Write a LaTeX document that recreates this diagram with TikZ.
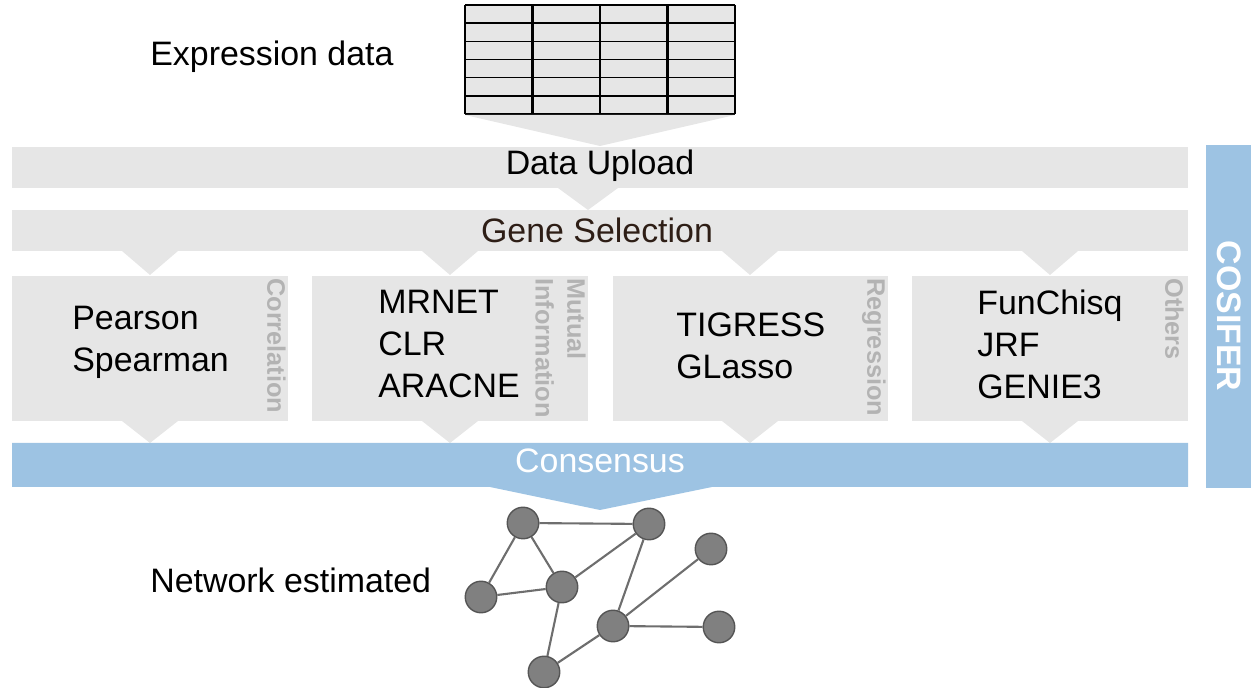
\documentclass[tikz,border=0pt]{standalone}
\usepackage{fontspec}
\setmainfont{Liberation Sans}
\definecolor{panel}{HTML}{E6E6E6}
\definecolor{consblue}{HTML}{9DC3E3}
\definecolor{sidegray}{HTML}{B3B3B3}
\definecolor{genebrown}{HTML}{2E1E16}
\definecolor{nodefill}{HTML}{808080}
\definecolor{nodeline}{HTML}{555555}
\definecolor{edgegray}{HTML}{6E6E6E}
\begin{document}
\begin{tikzpicture}[x=0.02cm,y=-0.02cm,
  bigtext/.style={inner sep=0pt, font=\fontsize{19.3}{24}\selectfont},
  listtext/.style={bigtext, align=left, anchor=west},
  sidelabel/.style={inner sep=0pt, rotate=-90, anchor=north west, align=left,
    text=sidegray, font=\fontsize{14.4}{18}\selectfont\bfseries},
  gene/.style={circle, minimum size=0.63cm, inner sep=0pt, fill=nodefill,
    draw=nodeline, line width=0.8pt},
  link/.style={draw=edgegray, line width=1.2pt}]
\useasboundingbox (0,0) rectangle (1254,688);

% expression matrix
\fill[panel] (465,5) rectangle (735,114);
\foreach \k in {0,...,6}
  \draw[line width=0.9pt] (465,5+18.17*\k) -- (735,5+18.17*\k);
\foreach \xx in {465,532.5,600,667.5,735}
  \draw[line width=1.5pt] (\xx,5) -- (\xx,114);
\fill[panel] (465,115) -- (735,115) -- (600,146) -- cycle;
\node[bigtext, anchor=west] (expr) at (150,57) {Expression data};

% pipeline bars
\fill[panel] (12,147) rectangle (1188,188);
\fill[panel] (558,188) -- (618,188) -- (588,210) -- cycle;
\node[bigtext] (upload) at (600,166) {Data Upload};

\fill[panel] (12,210) rectangle (1188,251);
\node[bigtext, text=genebrown] (select) at (597,230) {Gene Selection};

% method panels, each fed from above and feeding the consensus below
\foreach \cx/\xl/\xr in {150/12/288, 450/312/588, 750/613/888, 1050/912/1188} {
  \fill[panel] (\cx-28,251) -- (\cx+28,251) -- (\cx,275) -- cycle;
  \fill[panel] (\xl,276) rectangle (\xr,421);
  \fill[panel] (\cx-28,421) -- (\cx+28,421) -- (\cx,443) -- cycle;
}
\node[listtext] (corr) at (72,342) {Pearson\\Spearman};
\node[listtext] (mi) at (378,344) {MRNET\\CLR\\ARACNE};
\node[listtext] (regr) at (676,345.5) {TIGRESS\\GLasso};
\node[listtext] (other) at (977,344.5) {FunChisq\\JRF\\GENIE3};
\node[sidelabel] (corrlab) at (286,278) {Correlation};
\node[sidelabel] (milab) at (586,278) {Mutual\\Information};
\node[sidelabel] (regrlab) at (886,278) {Regression};
\node[sidelabel] (otherlab) at (1184,278) {Others};

% consensus bar and tool band
\fill[consblue] (12,443) -- (1188,443) -- (1188,487) -- (712,487)
  -- (600,510) -- (490,487) -- (12,487) -- cycle;
\node[bigtext, text=white] (cons) at (600,461) {Consensus};
\fill[consblue] (1206,145) rectangle (1251,488);
\node[inner sep=0pt, rotate=-90, text=white,
  font=\fontsize{19.3}{24}\selectfont\bfseries] (cosifer) at (1229,316) {COSIFER};

% estimated network
\node[bigtext, anchor=west] (netlab) at (150,580) {Network estimated};
\node[gene] (g1) at (523,523) {};
\node[gene] (g2) at (649,524) {};
\node[gene] (g3) at (711,549) {};
\node[gene] (g4) at (481,597) {};
\node[gene] (g5) at (562,587) {};
\node[gene] (g6) at (613,626) {};
\node[gene] (g7) at (719,627) {};
\node[gene] (g8) at (544,672) {};
\foreach \a/\b in {g1/g2, g1/g4, g1/g5, g4/g5, g5/g2, g2/g6, g3/g6, g6/g7, g6/g8, g5/g8}
  \draw[link] (\a) -- (\b);
\end{tikzpicture}
\end{document}
